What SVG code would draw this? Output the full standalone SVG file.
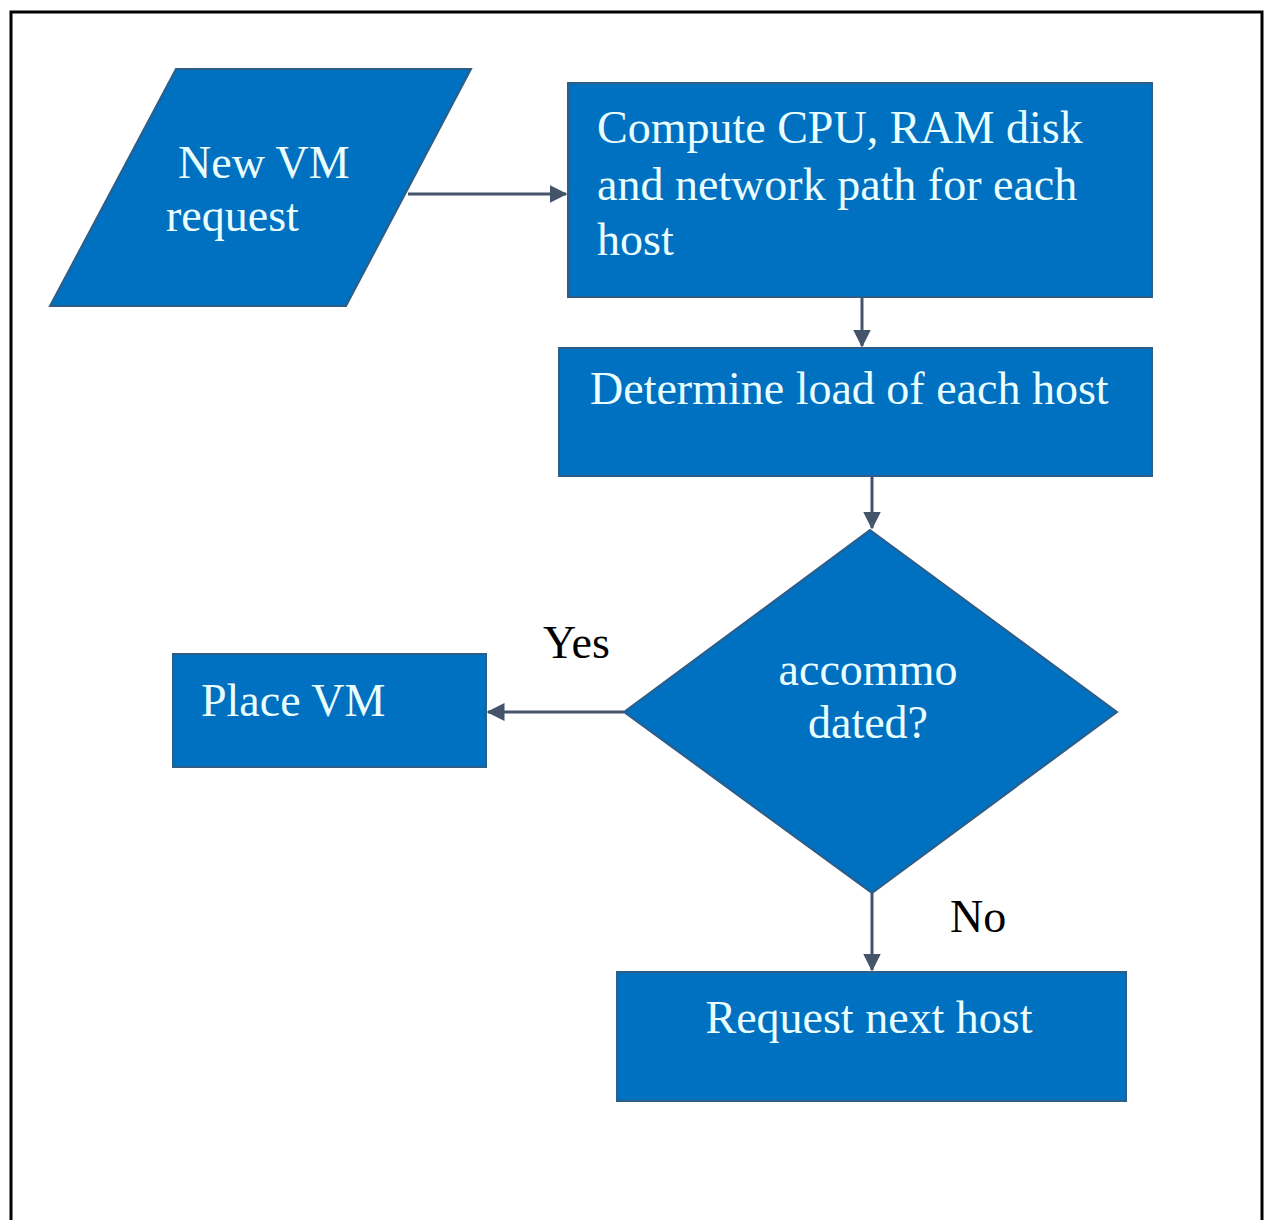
<svg xmlns="http://www.w3.org/2000/svg" width="1268" height="1220" viewBox="0 0 1268 1220">
<style>
.shape{fill:#0070c0;stroke:#2e5d86;stroke-width:2}
.lbl{font-family:"Liberation Serif","Times New Roman",serif;font-size:46px;fill:#eaffff}
.dark{font-family:"Liberation Serif","Times New Roman",serif;font-size:46px;fill:#000}
.conn{stroke:#44546a;stroke-width:3;fill:none}
</style>
<defs>
<marker id="arr" markerWidth="6" markerHeight="6" refX="5.5" refY="3" orient="auto" markerUnits="strokeWidth">
<path d="M0,0 L6,3 L0,6 Z" fill="#44546a"/>
</marker>
</defs>
<rect x="0" y="0" width="1268" height="1220" fill="#fff"/>
<path d="M11,1220 V12 H1262 V1220" fill="none" stroke="#000" stroke-width="3"/>
<g id="connectors">
<line class="conn" x1="408" y1="194" x2="566" y2="194" marker-end="url(#arr)"/>
<line class="conn" x1="862" y1="297" x2="862" y2="346" marker-end="url(#arr)"/>
<line class="conn" x1="872" y1="476" x2="872" y2="528" marker-end="url(#arr)"/>
<line class="conn" x1="624" y1="712" x2="488" y2="712" marker-end="url(#arr)"/>
<line class="conn" x1="872" y1="893" x2="872" y2="970" marker-end="url(#arr)"/>
<text class="dark" x="543" y="658">Yes</text>
<text class="dark" x="950" y="932">No</text>
</g>
<g id="new-vm-request">
<polygon class="shape" points="176,69 471,69 346,306 50,306"/>
<text class="lbl" x="178" y="178">New VM</text>
<text class="lbl" x="166" y="231">request</text>
</g>
<g id="compute">
<rect class="shape" x="568" y="83" width="584" height="214"/>
<text class="lbl" x="597" y="143">Compute CPU, RAM disk</text>
<text class="lbl" x="597" y="200">and network path for each</text>
<text class="lbl" x="597" y="255">host</text>
</g>
<g id="determine-load">
<rect class="shape" x="559" y="348" width="593" height="128"/>
<text class="lbl" x="590" y="404">Determine load of each host</text>
</g>
<g id="accommodated">
<polygon class="shape" points="870,530 1117,712 872,893 624,712"/>
<text class="lbl" x="868" y="685" text-anchor="middle">accommo</text>
<text class="lbl" x="868" y="738" text-anchor="middle">dated?</text>
</g>
<g id="place-vm">
<rect class="shape" x="173" y="654" width="313" height="113"/>
<text class="lbl" x="201" y="716">Place VM</text>
</g>
<g id="request-next-host">
<rect class="shape" x="617" y="972" width="509" height="129"/>
<text class="lbl" x="869" y="1033" text-anchor="middle">Request next host</text>
</g>
</svg>
